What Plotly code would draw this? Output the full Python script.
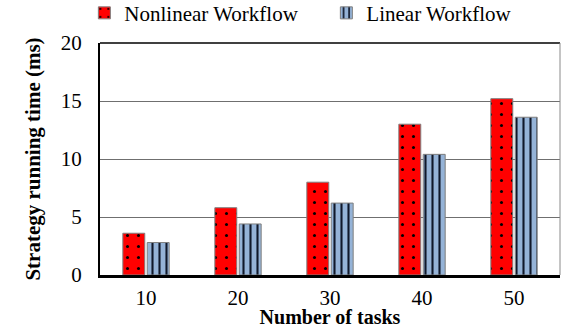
import plotly.graph_objects as go

# Strategy running time per number of tasks
tasks = ["10", "20", "30", "40", "50"]
nonlinear_ms = [3.6, 5.8, 8.0, 13.0, 15.2]
linear_ms = [2.8, 4.4, 6.2, 10.4, 13.6]
y_ticks = [0, 5, 10, 15, 20]

FONT = "Liberation Serif, Times New Roman, serif"

fig = go.Figure()
fig.add_trace(go.Bar(
    x=tasks, y=nonlinear_ms, name="Nonlinear Workflow",
    marker=dict(
        color="#ff0000",
        line=dict(color="#7f7f7f", width=1),
        pattern=dict(shape=".", fgcolor="#000000", bgcolor="#ff0000",
                     size=11, solidity=0.06, fillmode="replace"),
    ),
))
fig.add_trace(go.Bar(
    x=tasks, y=linear_ms, name="Linear Workflow",
    marker=dict(
        color="#95b3d7",
        line=dict(color="#7f7f7f", width=1),
        pattern=dict(shape="|", fgcolor="#10182a", bgcolor="#95b3d7",
                     size=7, solidity=0.3, fillmode="replace"),
    ),
))

fig.update_layout(
    width=563, height=328,
    margin=dict(l=100, r=3, t=43, b=53, autoexpand=False),
    paper_bgcolor="white", plot_bgcolor="white",
    barmode="group", bargap=0.47, bargroupgap=0.1,
    font=dict(family=FONT, size=21, color="black"),
    showlegend=True,
    legend=dict(
        orientation="h", x=-0.034, xanchor="left",
        y=1.04, yanchor="bottom",
        font=dict(family=FONT, size=21),
        itemwidth=30, traceorder="normal", entrywidth=197,
        bgcolor="rgba(0,0,0,0)",
    ),
    xaxis=dict(
        type="category", showline=True, linecolor="black", linewidth=2.5,
        automargin=False,
        ticks="", ticklabelstandoff=2, tickfont=dict(family=FONT, size=21),
        title=dict(text="<b>Number of tasks</b>", standoff=3,
                   font=dict(family=FONT, size=20)),
    ),
    yaxis=dict(
        range=[0, 20], tickvals=y_ticks, showline=True, linecolor="black",
        linewidth=2, showgrid=True, gridcolor="#6f6f6f", gridwidth=1.3,
        zeroline=False, ticks="", ticklabelstandoff=12, automargin=False,
        tickfont=dict(family=FONT, size=21),
        title=dict(text="<b>Strategy running time (ms)</b>", standoff=14,
                   font=dict(family=FONT, size=21)),
    ),
    shapes=[
        dict(type="line", xref="paper", yref="paper", x0=0, x1=1, y0=1, y1=1,
             line=dict(color="black", width=1.5)),
        dict(type="line", xref="paper", yref="paper", x0=1, x1=1, y0=0, y1=1,
             line=dict(color="#8a8a8a", width=1)),
    ],
)

fig.write_html("out.html")
